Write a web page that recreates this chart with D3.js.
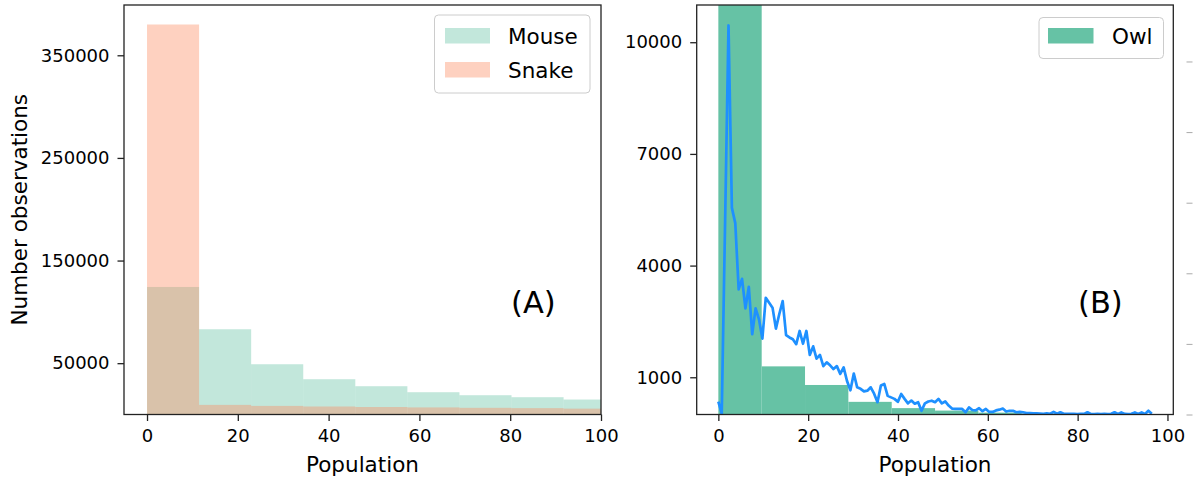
<!DOCTYPE html>
<html>
<head>
<meta charset="utf-8">
<script src="https://cdn.jsdelivr.net/npm/d3@7"></script>
<style>
  html, body { margin: 0; padding: 0; background: #fff; }
  svg { display: block; font-family: "DejaVu Sans", sans-serif; }
</style>
</head>
<body>
<svg id="chart" width="1195" height="481"></svg>
<script>
// ---------------- DATA ----------------
// Panel A histograms (bin width ~11.47, starting at 0)
const binWidthA = 11.47;
const mouseCounts = [124250, 83060, 48980, 34370, 27560, 21710, 18790, 16850, 14600];
const snakeCounts = [380000, 9350, 8370, 7800, 7300, 6900, 6500, 6200, 5700];
const seriesA = ["Mouse", "Snake"];

// Panel B histogram (bin width ~9.65)
const binWidthB = 9.65;
const owlCounts = [14000, 1293, 793, 340, 171, 105, 50, 25, 15, 10];

// Panel B line: counts at step ~0.754
const lineStep = 0.754;
const lineCounts = [
  347, 20, 5200, 10450, 5550, 5140, 3360, 3644, 2850, 3430,
  2156, 2850, 2557, 2040, 3136, 3000, 2870, 2308, 2700, 3046,
  2130, 2070, 2022, 1889, 2244, 1900, 2244, 1600, 1830, 1500,
  1600, 1300, 1400, 1320, 1220, 1300, 1090, 1265, 900, 650,
  1100, 730, 690, 620, 640, 730, 560, 330, 780, 820,
  500, 460, 420, 340, 550, 420, 300, 375, 290, 330,
  100, 300, 350, 370, 330, 420, 300, 350, 240, 160,
  150, 150, 150, 60, 190, 120, 110, 170, 90, 150,
  70, 70, 110, 130, 160, 80, 100, 100, 60, 70,
  60, 40, 40, 30, 30, 25, 20, 30, 20, 70,
  20, 60, 20, 15, 20, 15, 10, 20, 15, 60,
  15, 10, 15, 10, 20, 10, 20, 60, 15, 55,
  15, 10, 20, 55, 15, 55, 15, 100, 20
];

const xTicks = [0, 20, 40, 60, 80, 100];
const yTicksA = [50000, 150000, 250000, 350000];
const yTicksB = [1000, 4000, 7000, 10000];
const twinTicks = [0, 0.2, 0.4, 0.6, 0.8, 1.0];

// ---------------- LAYOUT ----------------
const svg = d3.select("#chart");
const T = 5, B = 414.5;
const A = { L: 124, R: 601 };
const Bp = { L: 696.7, R: 1173.3 };

const colMouse = "#66c2a5", colSnake = "#fc8d62", colLine = "#1e90ff";

const xA = d3.scaleLinear().domain([-5.07, 100]).range([A.L, A.R]);
const yA = d3.scaleLinear().domain([0, 399000]).range([B, T]);
const xB = d3.scaleLinear().domain([-4.82, 101.3]).range([Bp.L, Bp.R]);
const yB = d3.scaleLinear().domain([0, 11000]).range([B, T]);
const yTwin = d3.scaleLinear().domain([0, 1.16]).range([B, T]);

const defs = svg.append("defs");
defs.append("clipPath").attr("id", "clipA").append("rect")
  .attr("x", A.L).attr("y", T).attr("width", A.R - A.L).attr("height", B - T);
defs.append("clipPath").attr("id", "clipB").append("rect")
  .attr("x", Bp.L).attr("y", T).attr("width", Bp.R - Bp.L).attr("height", B - T);

// ---------------- PANEL A ----------------
const gA = svg.append("g").attr("clip-path", "url(#clipA)");
gA.selectAll("rect.mouse").data(mouseCounts).join("rect")
  .attr("class", "mouse")
  .attr("x", (d, i) => xA(i * binWidthA))
  .attr("width", (d, i) => xA((i + 1) * binWidthA) - xA(i * binWidthA))
  .attr("y", d => yA(d)).attr("height", d => yA(0) - yA(d))
  .attr("fill", colMouse).attr("fill-opacity", 0.4);
gA.selectAll("rect.snake").data(snakeCounts).join("rect")
  .attr("class", "snake")
  .attr("x", (d, i) => xA(i * binWidthA))
  .attr("width", (d, i) => xA((i + 1) * binWidthA) - xA(i * binWidthA))
  .attr("y", d => yA(d)).attr("height", d => yA(0) - yA(d))
  .attr("fill", colSnake).attr("fill-opacity", 0.4);

function styleAxis(g) {
  g.selectAll("text").attr("font-size", 18).attr("fill", "#000")
    .attr("font-family", "DejaVu Sans, sans-serif");
  g.selectAll("line").attr("stroke", "#222").attr("stroke-width", 1.3);
  g.select(".domain").remove();
}

svg.append("g").attr("transform", `translate(0,${B})`)
  .call(d3.axisBottom(xA).tickValues(xTicks).tickSize(6.5).tickPadding(8).tickFormat(d3.format("d")))
  .call(styleAxis);
svg.append("g").attr("transform", `translate(${A.L},0)`)
  .call(d3.axisLeft(yA).tickValues(yTicksA).tickSize(6.5).tickPadding(8).tickFormat(d3.format("d")))
  .call(styleAxis);

svg.append("rect").attr("x", A.L).attr("y", T).attr("width", A.R - A.L).attr("height", B - T)
  .attr("fill", "none").attr("stroke", "#222").attr("stroke-width", 1.3);

svg.append("text").attr("x", (A.L + A.R) / 2).attr("y", 472)
  .attr("text-anchor", "middle").attr("font-size", 21.5).text("Population");
svg.append("text").attr("transform", `translate(27,${(T + B) / 2}) rotate(-90)`)
  .attr("text-anchor", "middle").attr("font-size", 21.5).text("Number observations");
svg.append("text").attr("x", 511).attr("y", 313).attr("font-size", 30.5).text("(A)");

// legend A
const legA = svg.append("g");
legA.append("rect").attr("x", 434.5).attr("y", 15).attr("width", 155.5).attr("height", 78)
  .attr("rx", 4).attr("fill", "#fff").attr("fill-opacity", 0.8).attr("stroke", "#ccc").attr("stroke-width", 1);
const legColors = [colMouse, colSnake];
seriesA.forEach((name, i) => {
  legA.append("rect").attr("x", 445).attr("y", 28 + i * 34).attr("width", 45).attr("height", 15.5)
    .attr("fill", legColors[i]).attr("fill-opacity", 0.4);
  legA.append("text").attr("x", 508).attr("y", 44 + i * 34).attr("font-size", 21.5).text(name);
});

// ---------------- PANEL B ----------------
const gB = svg.append("g").attr("clip-path", "url(#clipB)");
gB.selectAll("rect.owl").data(owlCounts).join("rect")
  .attr("class", "owl")
  .attr("x", (d, i) => xB(i * binWidthB))
  .attr("width", (d, i) => xB((i + 1) * binWidthB) - xB(i * binWidthB))
  .attr("y", d => yB(d)).attr("height", d => yB(0) - yB(d))
  .attr("fill", colMouse);
gB.append("path").datum(lineCounts)
  .attr("d", d3.line().x((d, i) => xB(i * lineStep)).y(d => yB(d)))
  .attr("fill", "none").attr("stroke", colLine).attr("stroke-width", 2.7)
  .attr("stroke-linejoin", "round");

svg.append("g").attr("transform", `translate(0,${B})`)
  .call(d3.axisBottom(xB).tickValues(xTicks).tickSize(6.5).tickPadding(8).tickFormat(d3.format("d")))
  .call(styleAxis);
svg.append("g").attr("transform", `translate(${Bp.L},0)`)
  .call(d3.axisLeft(yB).tickValues(yTicksB).tickSize(6.5).tickPadding(8).tickFormat(d3.format("d")))
  .call(styleAxis);

// twin axis ticks (no labels)
const twin = svg.append("g").attr("transform", "translate(1186.5,0)")
  .call(d3.axisRight(yTwin).tickValues(twinTicks).tickSize(6).tickFormat(""));
twin.select(".domain").remove();
twin.selectAll("line").attr("stroke", "#aaa").attr("stroke-width", 1);

svg.append("rect").attr("x", Bp.L).attr("y", T).attr("width", Bp.R - Bp.L).attr("height", B - T)
  .attr("fill", "none").attr("stroke", "#222").attr("stroke-width", 1.3);

svg.append("text").attr("x", (Bp.L + Bp.R) / 2).attr("y", 472)
  .attr("text-anchor", "middle").attr("font-size", 21.5).text("Population");
svg.append("text").attr("x", 1078).attr("y", 313).attr("font-size", 30.5).text("(B)");

// legend B
const legB = svg.append("g");
legB.append("rect").attr("x", 1039).attr("y", 17.5).attr("width", 124.5).attr("height", 41)
  .attr("rx", 4).attr("fill", "#fff").attr("fill-opacity", 0.8).attr("stroke", "#ccc").attr("stroke-width", 1);
legB.append("rect").attr("x", 1048).attr("y", 28).attr("width", 45.5).attr("height", 15.5).attr("fill", colMouse);
legB.append("text").attr("x", 1112).attr("y", 44).attr("font-size", 21.5).text("Owl");
</script>
</body>
</html>
